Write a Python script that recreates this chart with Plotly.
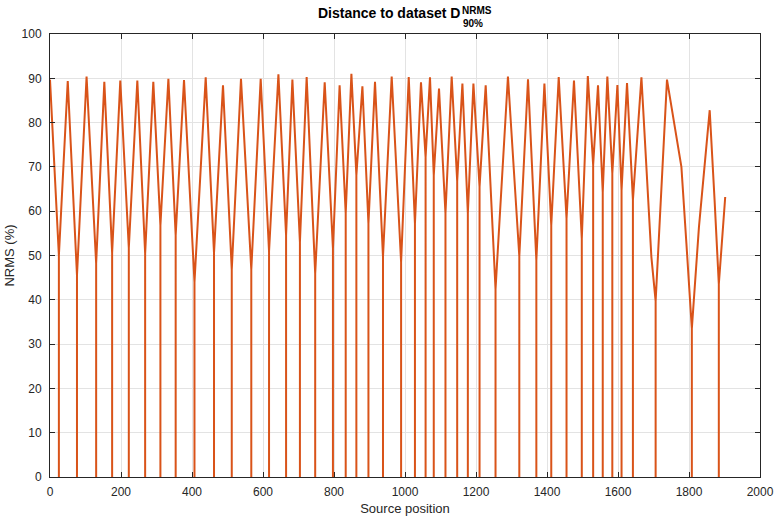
import plotly.graph_objects as go

# Source positions where the dataset coincides with the source (NRMS drops to 0)
drop_pos = [25, 76, 130, 175, 222, 268, 311, 354, 407, 462, 512, 567, 617, 665,
            704, 747, 797, 833, 863, 897, 938, 989, 1028, 1058, 1081, 1114, 1147,
            1177, 1210, 1255, 1322, 1370, 1412, 1455, 1498, 1530, 1557, 1584,
            1610, 1642, 1706, 1808, 1884]
# NRMS level just either side of each drop
drop_level = [50.0, 45.5, 48.2, 50.6, 51.7, 50.4, 56.8, 54.6, 44.0, 50.6, 46.8,
              46.8, 50.9, 54.6, 53.0, 45.9, 51.6, 59.5, 68.1, 57.2, 49.7, 48.5,
              57.2, 72.2, 68.1, 59.5, 66.8, 59.5, 65.5, 42.4, 49.8, 48.9, 56.8,
              58.3, 53.8, 70.4, 64.3, 68.5, 64.7, 62.5, 39.7, 33.5, 43.5]

# Crests between the drops (including the first and last samples)
crest_pos = [0, 50, 103, 153, 198, 246, 291, 333.5, 377.5, 438.6, 487.3, 538,
             593.5, 643.4, 682.8, 723, 773.8, 815.8, 849, 880, 915.5, 962.5,
             1010.5, 1045, 1070.4, 1095.8, 1131.5, 1161.7, 1192.7, 1227.3, 1290,
             1346.5, 1392.7, 1433, 1476, 1515, 1543.7, 1570, 1598.3, 1625.4, 1666,
             1738, 1858.3, 1902]
crest_val = [89.7, 89.4, 90.4, 89.2, 89.5, 89.5, 89.2, 89.9, 89.6, 90.2, 88.4,
             89.9, 89.9, 90.9, 89.7, 90.3, 89.1, 88.4, 91.0, 88.2, 89.2, 90.4,
             90.3, 89.1, 90.2, 87.7, 90.4, 88.8, 88.8, 88.4, 90.4, 89.8, 88.8,
             90.3, 89.5, 90.5, 88.4, 90.4, 88.5, 88.9, 90.2, 89.7, 82.8, 63.2]

# Intermediate samples on the wide flanks near the end of the range
flank_pos = [1694, 1778.6, 1792.7, 1828, 1839.4, 1872.4]
flank_val = [49.7, 70.0, 52.7, 56.4, 66.6, 62.0]

# Assemble the trace in position order
points = [(x, y, "c") for x, y in zip(crest_pos, crest_val)]
points += [(x, y, "f") for x, y in zip(flank_pos, flank_val)]
points += [(x, y, "d") for x, y in zip(drop_pos, drop_level)]
points.sort(key=lambda p: p[0])

xs, ys = [], []
for x, y, kind in points:
    if kind == "d":
        xs += [x, x, x]
        ys += [y, 0, y]
    else:
        xs.append(x)
        ys.append(y)

axis_col = "#262626"
grid_col = "#e3e3e3"
font_fam = "Liberation Sans, Arial, Helvetica, sans-serif"

fig = go.Figure()
fig.add_trace(go.Scatter(
    x=xs, y=ys, mode="lines",
    line=dict(color="#D95319", width=2),
    hoverinfo="skip", showlegend=False,
))

common_axis = dict(
    showline=True, linecolor=axis_col, linewidth=1, mirror="allticks",
    ticks="inside", ticklen=5, tickcolor=axis_col, tickwidth=1,
    showgrid=True, gridcolor=grid_col, gridwidth=1, zeroline=False,
    automargin=False,
    tickfont=dict(family=font_fam, size=12, color=axis_col),
)

fig.update_xaxes(
    range=[0, 2000], tickmode="array",
    tickvals=list(range(0, 2001, 200)),
    ticktext=[str(v) for v in range(0, 2001, 200)],
    title=dict(text="Source position", standoff=5,
               font=dict(family=font_fam, size=13, color=axis_col)),
    ticklabelstandoff=4,
    **common_axis,
)
fig.update_yaxes(
    range=[0, 100], tickmode="array",
    tickvals=list(range(0, 101, 10)),
    ticktext=[str(v) for v in range(0, 101, 10)],
    title=dict(text="NRMS (%)", standoff=4,
               font=dict(family=font_fam, size=13, color=axis_col)),
    ticklabelstandoff=5,
    **common_axis,
)

# Title with stacked super/subscript on the D
fig.add_annotation(
    x=461, y=13.5, text="<b>Distance to dataset D</b>",
    showarrow=False, xanchor="right", yanchor="middle", borderpad=0,
    font=dict(family=font_fam, size=14, color="#000000"),
)
fig.add_annotation(
    x=461, y=10.5, text="<b>NRMS</b>", showarrow=False,
    xanchor="left", yanchor="middle", borderpad=0,
    font=dict(family=font_fam, size=10, color="#000000"),
)
fig.add_annotation(
    x=462, y=23.5, text="<b>90%</b>", showarrow=False,
    xanchor="left", yanchor="middle", borderpad=0,
    font=dict(family=font_fam, size=10, color="#000000"),
)

W, H = 774, 522
ML, MR, MT, MB = 50, 14, 34, 45
fig.update_layout(
    width=W, height=H,
    margin=dict(l=ML, r=MR, t=MT, b=MB),
    paper_bgcolor="white", plot_bgcolor="white",
    font=dict(family=font_fam, color=axis_col),
)

# Convert the title annotations from pixel to paper coordinates
pw = W - ML - MR
ph = H - MT - MB
for ann in fig.layout.annotations:
    ann.xref = "paper"
    ann.yref = "paper"
    ann.x = (ann.x - ML) / pw
    ann.y = (H - MB - ann.y) / ph

fig.write_html("out.html")
